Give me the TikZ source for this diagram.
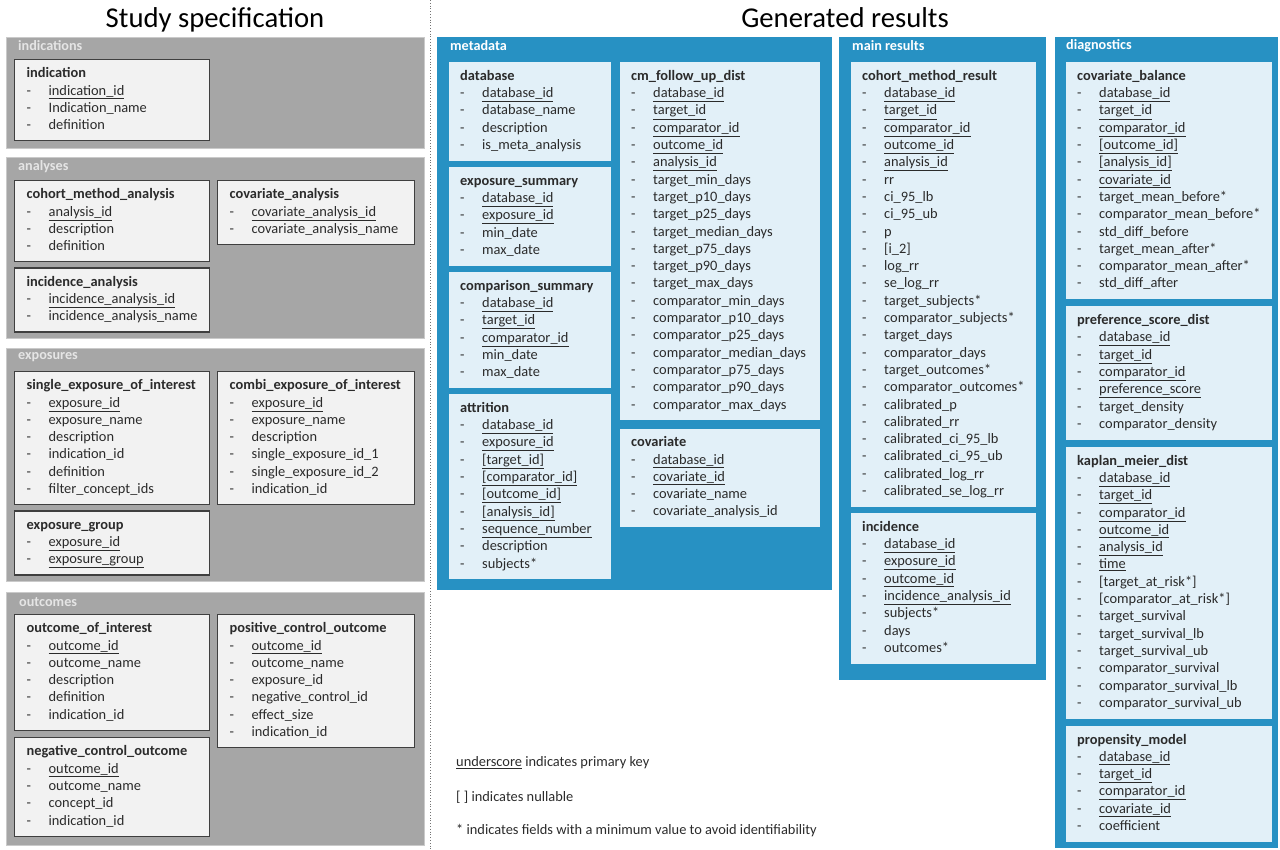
\documentclass[tikz,border=0pt]{standalone}
\usepackage{fontspec}
\setmainfont{Carlito}
\usetikzlibrary{positioning}

\definecolor{grpgray}{HTML}{A6A6A6}
\definecolor{tblgray}{HTML}{F2F2F2}
\definecolor{tbledge}{HTML}{3F3F3F}
\definecolor{grpblue}{HTML}{2791C3}
\definecolor{tblblue}{HTML}{E2F0F8}
\definecolor{txtdark}{HTML}{2B2B2B}

\newcommand{\pk}[1]{- & \underline{#1}\\}
\newcommand{\fd}[1]{- & #1\\}
\newcommand{\tabl}[2]{\begin{tabular}{@{}p{22pt}@{}l@{}}\multicolumn{2}{@{}l@{}}{\textbf{#1}}\\#2\end{tabular}}

\tikzset{
  grygrp/.style={fill=grpgray, draw=grpgray!60!white, line width=0.8pt, anchor=north west, inner sep=0pt},
  blugrp/.style={fill=grpblue, anchor=north west, inner sep=0pt},
  grplbl/.style={anchor=west, inner sep=0pt, font=\fontsize{14.2}{17}\selectfont\bfseries},
  grytbl/.style={fill=tblgray, draw=tbledge, line width=1.3pt, anchor=north west, inner xsep=12pt, inner ysep=6pt,
    align=left, text width=#1, text=txtdark, font=\fontsize{14.4}{17.3}\selectfont},
  blutbl/.style={fill=tblblue, anchor=north west, inner xsep=11pt, inner ysep=6pt,
    align=left, text width=#1, text=txtdark, font=\fontsize{14.4}{17.3}\selectfont},
  note/.style={anchor=west, inner sep=0pt, text=txtdark, font=\fontsize{14.4}{17.3}\selectfont},
  heading/.style={inner sep=0pt, font=\fontsize{28.7}{34}\selectfont}
}

\begin{document}
\begin{tikzpicture}[x=1pt, y=1pt]
    \useasboundingbox (0,0) rectangle (1280,-850);

    \node[heading] (studyhead) at (215,-20) {Study specification};
    \node[heading] (genhead) at (845,-18) {Generated results};
    \coordinate (divtop) at (430,0);
    \coordinate (divbot) at (430,-850);
    \draw[dotted, line width=0.8pt, black!55] (divtop) -- (divbot);

    \node[grygrp, minimum width=418, minimum height=111] (indications) at (6,-37) {};
    \node[grygrp, minimum width=418, minimum height=181] (analyses) at (6,-157) {};
    \node[grygrp, minimum width=418, minimum height=233] (exposures) at (6,-348) {};
    \node[grygrp, minimum width=418, minimum height=253] (outcomes) at (6,-592) {};
    \node[blugrp, minimum width=395, minimum height=553] (metadata) at (437,-37) {};
    \node[blugrp, minimum width=207, minimum height=643] (mainresults) at (839,-37) {};
    \node[blugrp, minimum width=223, minimum height=811] (diagnostics) at (1055,-37) {};

    \node[grplbl, text=white!90!black] (indicationslbl) at ([shift={(12,-9)}]indications.north west) {indications};
    \node[grplbl, text=white!90!black] (analyseslbl) at ([shift={(12,-10)}]analyses.north west) {analyses};
    \node[grplbl, text=white!90!black] (exposureslbl) at ([shift={(12,-9)}]exposures.north west) {exposures};
    \node[grplbl, text=white!90!black] (outcomeslbl) at ([shift={(13,-10)}]outcomes.north west) {outcomes};
    \node[grplbl, text=white] (metadatalbl) at ([shift={(13,-9)}]metadata.north west) {metadata};
    \node[grplbl, text=white] (mainresultslbl) at ([shift={(13,-9)}]mainresults.north west) {main results};
    \node[grplbl, text=white] (diagnosticslbl) at ([shift={(11,-9)}]diagnostics.north west) {diagnostics};

    \node[grytbl=171] (indication) at (14,-59) {\tabl{indication}{\pk{indication\_id}\fd{Indication\_name}\fd{definition}}};

    \node[grytbl=171] (cmanalysis) at (14,-180) {\tabl{cohort\_method\_analysis}{\pk{analysis\_id}\fd{description}\fd{definition}}};
    \node[grytbl=171, below=5pt of cmanalysis] (incanalysis) {\tabl{incidence\_analysis}{\pk{incidence\_analysis\_id}\fd{incidence\_analysis\_name}}};
    \node[grytbl=173] (covanalysis) at (217,-180) {\tabl{covariate\_analysis}{\pk{covariate\_analysis\_id}\fd{covariate\_analysis\_name}}};

    \node[grytbl=171] (singleexp) at (14,-371) {\tabl{single\_exposure\_of\_interest}{\pk{exposure\_id}\fd{exposure\_name}\fd{description}\fd{indication\_id}\fd{definition}\fd{filter\_concept\_ids}}};
    \node[grytbl=171, below=5pt of singleexp] (expgroup) {\tabl{exposure\_group}{\pk{exposure\_id}\pk{exposure\_group}}};
    \node[grytbl=173] (combiexp) at (217,-371) {\tabl{combi\_exposure\_of\_interest}{\pk{exposure\_id}\fd{exposure\_name}\fd{description}\fd{single\_exposure\_id\_1}\fd{single\_exposure\_id\_2}\fd{indication\_id}}};

    \node[grytbl=171] (outcomeint) at (14,-614) {\tabl{outcome\_of\_interest}{\pk{outcome\_id}\fd{outcome\_name}\fd{description}\fd{definition}\fd{indication\_id}}};
    \node[grytbl=171, below=6pt of outcomeint] (negcontrol) {\tabl{negative\_control\_outcome}{\pk{outcome\_id}\fd{outcome\_name}\fd{concept\_id}\fd{indication\_id}}};
    \node[grytbl=173] (poscontrol) at (217,-614) {\tabl{positive\_control\_outcome}{\pk{outcome\_id}\fd{outcome\_name}\fd{exposure\_id}\fd{negative\_control\_id}\fd{effect\_size}\fd{indication\_id}}};

    \node[blutbl=140] (database) at (449,-62) {\tabl{database}{\pk{database\_id}\fd{database\_name}\fd{description}\fd{is\_meta\_analysis}}};
    \node[blutbl=140, below=6pt of database] (expsummary) {\tabl{exposure\_summary}{\pk{database\_id}\pk{exposure\_id}\fd{min\_date}\fd{max\_date}}};
    \node[blutbl=140, below=6pt of expsummary] (compsummary) {\tabl{comparison\_summary}{\pk{database\_id}\pk{target\_id}\pk{comparator\_id}\fd{min\_date}\fd{max\_date}}};
    \node[blutbl=140, below=6pt of compsummary] (attrition) {\tabl{attrition}{\pk{database\_id}\pk{exposure\_id}\pk{[target\_id]}\pk{[comparator\_id]}\pk{[outcome\_id]}\pk{[analysis\_id]}\pk{sequence\_number}\fd{description}\fd{subjects*}}};
    \node[blutbl=178] (followup) at (620,-62) {\tabl{cm\_follow\_up\_dist}{\pk{database\_id}\pk{target\_id}\pk{comparator\_id}\pk{outcome\_id}\pk{analysis\_id}\fd{target\_min\_days}\fd{target\_p10\_days}\fd{target\_p25\_days}\fd{target\_median\_days}\fd{target\_p75\_days}\fd{target\_p90\_days}\fd{target\_max\_days}\fd{comparator\_min\_days}\fd{comparator\_p10\_days}\fd{comparator\_p25\_days}\fd{comparator\_median\_days}\fd{comparator\_p75\_days}\fd{comparator\_p90\_days}\fd{comparator\_max\_days}}};
    \node[blutbl=178, below=8pt of followup] (covariate) {\tabl{covariate}{\pk{database\_id}\pk{covariate\_id}\fd{covariate\_name}\fd{covariate\_analysis\_id}}};

    \node[blutbl=163] (cmresult) at (851,-62) {\tabl{cohort\_method\_result}{\pk{database\_id}\pk{target\_id}\pk{comparator\_id}\pk{outcome\_id}\pk{analysis\_id}\fd{rr}\fd{ci\_95\_lb}\fd{ci\_95\_ub}\fd{p}\fd{[i\_2]}\fd{log\_rr}\fd{se\_log\_rr}\fd{target\_subjects*}\fd{comparator\_subjects*}\fd{target\_days}\fd{comparator\_days}\fd{target\_outcomes*}\fd{comparator\_outcomes*}\fd{calibrated\_p}\fd{calibrated\_rr}\fd{calibrated\_ci\_95\_lb}\fd{calibrated\_ci\_95\_ub}\fd{calibrated\_log\_rr}\fd{calibrated\_se\_log\_rr}}};
    \node[blutbl=163, below=6pt of cmresult] (incidence) {\tabl{incidence}{\pk{database\_id}\pk{exposure\_id}\pk{outcome\_id}\pk{incidence\_analysis\_id}\fd{subjects*}\fd{days}\fd{outcomes*}}};

    \node[blutbl=184] (covbalance) at (1066,-62) {\tabl{covariate\_balance}{\pk{database\_id}\pk{target\_id}\pk{comparator\_id}\pk{[outcome\_id]}\pk{[analysis\_id]}\pk{covariate\_id}\fd{target\_mean\_before*}\fd{comparator\_mean\_before*}\fd{std\_diff\_before}\fd{target\_mean\_after*}\fd{comparator\_mean\_after*}\fd{std\_diff\_after}}};
    \node[blutbl=184, below=7pt of covbalance] (prefscore) {\tabl{preference\_score\_dist}{\pk{database\_id}\pk{target\_id}\pk{comparator\_id}\pk{preference\_score}\fd{target\_density}\fd{comparator\_density}}};
    \node[blutbl=184, below=7pt of prefscore] (kmdist) {\tabl{kaplan\_meier\_dist}{\pk{database\_id}\pk{target\_id}\pk{comparator\_id}\pk{outcome\_id}\pk{analysis\_id}\pk{time}\fd{[target\_at\_risk*]}\fd{[comparator\_at\_risk*]}\fd{target\_survival}\fd{target\_survival\_lb}\fd{target\_survival\_ub}\fd{comparator\_survival}\fd{comparator\_survival\_lb}\fd{comparator\_survival\_ub}}};
    \node[blutbl=184, below=7pt of kmdist] (psmodel) {\tabl{propensity\_model}{\pk{database\_id}\pk{target\_id}\pk{comparator\_id}\pk{covariate\_id}\fd{coefficient}}};

    \node[note] (pknote) at (456,-763) {\underline{underscore} indicates primary key};
    \node[note] (nullnote) at (456,-797) {[ ] indicates nullable};
    \node[note] (starnote) at (456,-831) {* indicates fields with a minimum value to avoid identifiability};
\end{tikzpicture}
\end{document}
